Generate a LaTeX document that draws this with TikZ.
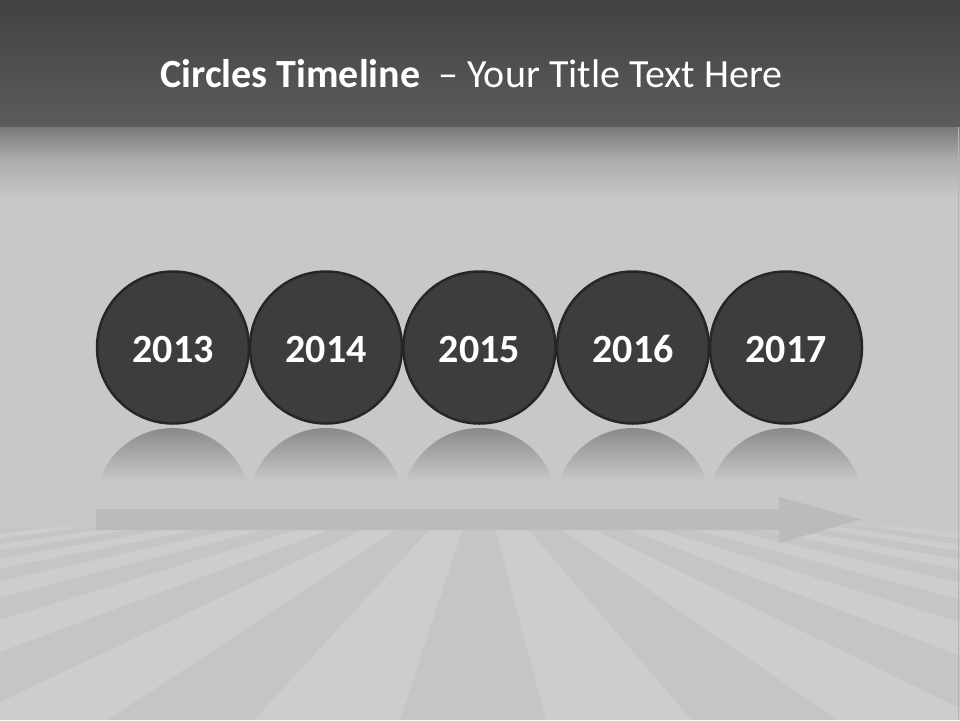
\documentclass[tikz,border=0pt]{standalone}
\usepackage{fontspec}
\setmainfont{Carlito}
\definecolor{topA}{HTML}{424242}
\definecolor{topB}{HTML}{5C5C5C}
\definecolor{midA}{HTML}{7A7A7A}
\definecolor{midB}{HTML}{ADADAD}
\definecolor{bgmid}{HTML}{C8C8C8}
\definecolor{lightS}{HTML}{DBDBDB}
\definecolor{darkS}{HTML}{BEBEBE}
\definecolor{arrowgray}{HTML}{BBBBBB}
\definecolor{circfill}{HTML}{3D3D3D}
\definecolor{circline}{HTML}{262626}
\definecolor{refltop}{HTML}{8A8A8A}
\definecolor{edgeline}{HTML}{B4B4B4}
\tikzset{
  yearcircle/.style={circle, minimum size=152pt, inner sep=0pt, fill=circfill, draw=circline, line width=2.5pt, text=white, text height=29pt, text depth=0pt, font=\fontsize{40}{48}\selectfont\bfseries},
  titletext/.style={text=white, inner sep=0pt, font=\fontsize{40}{48}\selectfont},
  lightstripe/.style={top color=lightS!30!bgmid, middle color=lightS, bottom color=lightS!25!bgmid},
  darkstripe/.style={top color=darkS!30!bgmid, middle color=darkS, bottom color=darkS!25!bgmid}
}
\begin{document}
\begin{tikzpicture}[x=1pt,y=-1pt]
\useasboundingbox (0,0) rectangle (960,720);
% background
\fill[bgmid] (0,0) rectangle (960,720);
\shade[top color=topA, bottom color=topB] (0,0) rectangle (960,127.5);
\shade[top color=midA, bottom color=midB] (0,127) rectangle (960,160.5);
\shade[top color=midB, bottom color=bgmid] (0,160) rectangle (960,200);
% floor stripes fanning from a vanishing point, fading up and down
\coordinate (V) at (481,474);
\begin{scope}
  \clip (0,527) rectangle (960,720);
  \foreach \xa/\xb/\sc in {-1644/-1498/darkstripe,-1498/-1352/lightstripe,-1352/-1206/darkstripe,-1206/-1060/lightstripe,
    -1060/-914/darkstripe,-914/-768/lightstripe,-768/-622/darkstripe,-622/-476/lightstripe,-476/-330/darkstripe,-330/-184/lightstripe,
    -184/-38/darkstripe,-38/108/lightstripe,108/254/darkstripe,254/400/lightstripe,400/546/darkstripe,546/692/lightstripe,
    692/838/darkstripe,838/984/lightstripe,984/1130/darkstripe,1130/1276/lightstripe,1276/1422/darkstripe,1422/1568/lightstripe,
    1568/1714/darkstripe,1714/1860/lightstripe,1860/2006/darkstripe,2006/2152/lightstripe,2152/2298/darkstripe,2298/2444/lightstripe}{
    \shade[\sc] (V) -- (\xa,720) -- (\xb,720) -- cycle;
  }
\end{scope}
\draw[edgeline, line width=1pt] (958.5,127) -- (958.5,720);
% reflections
\foreach \cx in {173,326,479.5,633,786}{
  \begin{scope}
    \clip (\cx,505.5) circle[radius=77.5];
    \shade[top color=refltop, bottom color=bgmid] (\cx-80,428) rectangle (\cx+80,481);
  \end{scope}
}
% arrow
\fill[arrowgray] (96,509) -- (779,509) -- (779,497) -- (861,519.5) -- (779,543) -- (779,530) -- (96,530) -- cycle;
% circles
\node[yearcircle] (c1) at (173,347.5) {2013};
\node[yearcircle] (c2) at (326,347.5) {2014};
\node[yearcircle] (c3) at (479.5,347.5) {2015};
\node[yearcircle] (c4) at (633,347.5) {2016};
\node[yearcircle] (c5) at (786,347.5) {2017};
% title
\node[titletext, anchor=base] (title) at (471.5,87) {\textbf{Circles Timeline}\ \ – Your Title Text Here};
\end{tikzpicture}
\end{document}
